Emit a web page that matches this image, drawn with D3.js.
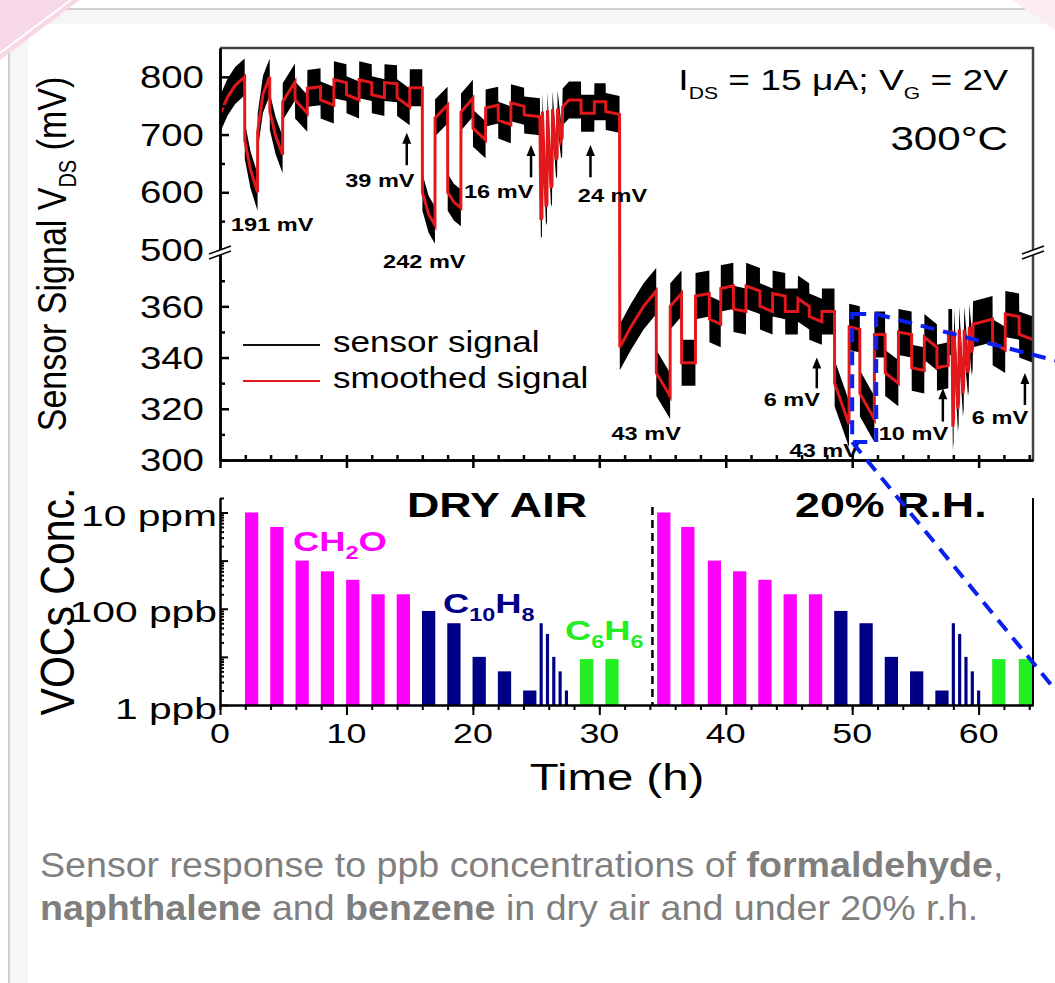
<!DOCTYPE html>
<html>
<head>
<meta charset="utf-8">
<script src="https://cdn.jsdelivr.net/npm/d3@7"></script>
<style>
  body { margin: 0; background: #fff; }
  svg { display: block; font-family: "Liberation Sans", Arial, sans-serif; }
</style>
</head>
<body>
<svg id="chart" width="1055" height="983"></svg>
<script>
// ---- data ----
// smoothed sensor signal [time h, mV]
const signal = [
  [0.0, 735], [0.6, 765], [1.2, 785], [1.95, 800],
  [1.96, 690], [2.4, 640], [2.97, 600],
  [2.98, 705], [3.4, 770], [3.93, 800],
  [3.94, 740], [4.4, 698], [4.95, 665],
  [4.96, 757], [5.93, 791],
  [5.94, 760], [6.9, 737],
  [6.91, 780], [7.95, 783],
  [7.96, 760], [9.0, 751],
  [9.01, 795], [10.0, 790],
  [10.01, 769], [11.0, 760],
  [11.01, 795], [12.0, 790],
  [12.01, 769], [13.0, 764],
  [13.01, 790], [14.0, 788],
  [14.01, 764], [15.0, 748],
  [15.01, 781], [16.0, 781],
  [16.01, 600], [16.5, 562], [17.0, 543],
  [17.01, 729], [18.0, 751],
  [18.01, 600], [18.5, 583], [19.05, 573],
  [19.06, 739], [20.0, 763],
  [20.01, 711], [21.0, 691],
  [21.01, 746], [22.0, 751],
  [22.01, 725], [23.0, 717],
  [23.01, 755], [24.05, 749],
  [24.06, 734], [25.3, 731],
  [25.38, 552], [25.46, 556], [25.5, 740],
  [25.78, 575], [25.86, 580], [25.9, 742],
  [26.18, 607], [26.26, 612], [26.3, 744],
  [26.58, 656], [26.66, 660], [26.7, 745],
  [26.98, 690], [27.06, 694], [27.1, 748],
  [27.6, 760], [28.55, 760],
  [28.56, 737], [29.6, 737],
  [29.61, 757], [30.5, 757],
  [30.51, 740], [31.6, 735],
  [31.62, 344], [32.5, 352], [33.5, 360], [34.5, 366],
  [34.51, 334], [35.6, 325],
  [35.61, 360], [36.5, 365],
  [36.51, 338], [37.6, 338],
  [37.61, 364], [38.7, 365],
  [38.71, 355], [39.6, 353],
  [39.61, 367], [40.6, 368],
  [40.61, 359], [41.6, 358],
  [41.61, 368], [42.7, 366],
  [42.71, 360], [43.7, 358],
  [43.71, 365], [44.7, 364],
  [44.71, 358], [45.7, 358],
  [45.71, 363], [46.6, 360],
  [46.61, 356], [47.6, 354],
  [47.61, 358], [48.6, 358],
  [48.61, 330], [49.75, 314],
  [49.76, 352], [50.6, 351],
  [50.61, 326], [51.75, 316],
  [51.76, 349], [52.6, 349],
  [52.61, 334], [53.65, 330],
  [53.66, 350], [54.7, 349],
  [54.71, 336], [55.7, 335],
  [55.71, 348], [56.7, 344],
  [56.71, 336], [57.6, 337],
  [57.61, 350], [57.9, 350],
  [57.96, 313], [58.02, 316], [58.06, 350],
  [58.36, 320], [58.42, 323], [58.46, 351],
  [58.76, 326], [58.82, 329], [58.86, 351],
  [59.16, 334], [59.22, 336], [59.26, 352],
  [59.46, 342], [59.52, 344], [59.56, 353],
  [61.1, 355],
  [61.11, 346], [62.1, 343],
  [62.11, 357], [63.2, 356],
  [63.21, 349], [64.3, 347]
]
const noiseUpper = 32   // half width of the raw signal band, mV (upper segment)
const noiseLower = 9    // same, lower segment

// gas pulses: centre time (h) and concentration (ppb)
const ch2oDryT = [2.5, 4.5, 6.5, 8.5, 10.5, 12.5, 14.5]
const ch2oHumT = [35.1, 37.0, 39.1, 41.1, 43.1, 45.1, 47.1]
const ch2oPpb = [10000, 5000, 1000, 600, 400, 200, 200]
const c10h8DryT = [16.5, 18.5, 20.5, 22.5, 24.5]
const c10h8HumT = [49.1, 51.1, 53.1, 55.1, 57.1]
const c10h8Ppb = [90, 50, 10, 5, 2]
const pulseDryT = [25.4, 25.9, 26.4, 26.9, 27.4]
const pulseHumT = [58.0, 58.5, 59.0, 59.5, 60.0]
const pulsePpb = [50, 30, 10, 5, 2]
const c6h6DryT = [29.0, 31.0]
const c6h6HumT = [61.6, 63.7]
const c6h6Ppb = [9, 9]

// axis ticks
const sigMajor = [300, 320, 340, 360, 500, 600, 700, 800]
const sigMinor = [310, 330, 350, 370, 550, 650, 750]
const concLabelVals = [1, 100, 10000]
const concLabels = ["1 ppb", "100 ppb", "10 ppm"]
const timeLabels = [0, 10, 20, 30, 40, 50, 60]

// response annotations
const annoText = ["191 mV", "39 mV", "242 mV", "16 mV", "24 mV", "43 mV", "6 mV", "43 mV", "10 mV", "6 mV"]
const annoT = [0.87, 9.9, 12.9, 19.3, 28.3, 30.96, 43.0, 45.05, 52.1, 59.46]
const annoMV = [533, 609, 375, 590, 583, 308, 321, 301, 308, 314]
const arrowT = [14.77, 24.6, 29.3, 47.2, 57.17, 63.66]
const arrowFrom = [647, 626, 626, 328, 315, 321.5]
const arrowTo = [703, 682, 682, 340, 328, 334]

// ---- layout ----
const W = 1055, H = 983
const SX = 1.24   // the figure's lettering is stretched horizontally
const magenta = "#ff00ff", navy = "#000087", green = "#22ee22", red = "#e3181c", blue = "#0a20ee"

const x = d3.scaleLinear().domain([0, 64.3]).range([220, 1033])
// broken axis: 300-382 mV below the break, 500-850 mV above it
const ySig = d3.scaleLinear().domain([300, 382, 500, 850]).range([460, 250, 250, 48])
const yConc = d3.scaleLog().domain([1, 20000]).range([705, 498])

const svg = d3.select("#chart")

// slide backdrop
svg.append("rect").attr("width", W).attr("height", H).attr("fill", "#fff")
svg.append("rect").attr("x", 9).attr("y", 9).attr("width", W).attr("height", H)
  .attr("fill", "#f6f6f6").attr("stroke", "#cfcfcf").attr("stroke-width", 2)
svg.append("rect").attr("x", 28).attr("y", 24).attr("width", W).attr("height", H).attr("fill", "#fff")
svg.append("path").attr("d", "M0,0H80L0,60Z").attr("fill", "#f6d8e7")
svg.append("path").attr("d", "M71,0L0,53").attr("stroke", "#fff").attr("stroke-width", 2)
svg.append("path").attr("d", "M1012,0H1055V30Z").attr("fill", "#fbedf3")

function stext(parent, px, py, size, anchor = "start", weight = "normal", sx = SX) {
  return parent.append("text")
    .attr("transform", `translate(${px},${py}) scale(${sx},1)`)
    .attr("font-size", size)
    .attr("text-anchor", anchor)
    .attr("font-weight", weight)
}

// ---- top panel: sensor signal ----
const sigPanel = svg.append("g")
const [x0, x1] = x.range()
const yTop = ySig.range()[3], yBot = ySig.range()[0]

sigPanel.append("clipPath").attr("id", "clipSig")
  .append("rect").attr("x", x0).attr("y", yTop).attr("width", x1 - x0).attr("height", yBot - yTop)

const noise = v => v >= 450 ? noiseUpper : noiseLower
const band = d3.area()
  .x(d => x(d[0]))
  .y0(d => ySig(d[1] - noise(d[1])))
  .y1(d => ySig(d[1] + noise(d[1])))
const smooth = d3.line().x(d => x(d[0])).y(d => ySig(d[1]))

const sig = sigPanel.append("g").attr("clip-path", "url(#clipSig)")
sig.append("path").datum(signal).attr("d", band).attr("fill", "#000")
sig.append("path").datum(signal).attr("d", smooth)
  .attr("fill", "none").attr("stroke", red).attr("stroke-width", 3)

// frame
sigPanel.append("path").attr("d", `M${x0},${yTop}H${x1}V${yBot}`)
  .attr("fill", "none").attr("stroke", "#444").attr("stroke-width", 2.5)

// left axis (ticks point inwards)
const leftMinor = sigPanel.append("g").attr("transform", `translate(${x0},0)`)
  .call(d3.axisLeft(ySig).tickValues(sigMinor).tickSize(-5).tickSizeOuter(0).tickFormat(""))
const leftMajor = sigPanel.append("g").attr("transform", `translate(${x0},0)`)
  .call(d3.axisLeft(ySig).tickValues(sigMajor).tickSize(-9).tickSizeOuter(0).tickFormat(""))
;[leftMinor, leftMajor].forEach(g => {
  g.selectAll("path,line").attr("stroke", "#000").attr("stroke-width", 2.5)
})
sigMajor.forEach(v => {
  stext(sigPanel, x0 - 16, ySig(v), 31, "end").attr("dy", "0.36em").text(v)
})

// bottom axis of the top panel
const tb1 = sigPanel.append("g").attr("transform", `translate(0,${yBot})`)
  .call(d3.axisBottom(x).tickValues(d3.range(0, 65, 2)).tickSize(-5).tickSizeOuter(0).tickFormat(""))
const tb2 = sigPanel.append("g").attr("transform", `translate(0,${yBot})`)
  .call(d3.axisBottom(x).tickValues(timeLabels).tickSize(8).tickSizeOuter(0).tickFormat(""))
;[tb1, tb2].forEach(g => g.selectAll("path,line").attr("stroke", "#000").attr("stroke-width", 2.5))

// axis break marks
;[x0, x1].forEach(bx => {
  const by = ySig(500) + 3
  sigPanel.append("path").attr("d", `M${bx - 11},${by + 1}L${bx + 11},${by - 7}L${bx + 11},${by - 2}L${bx - 11},${by + 6}Z`)
    .attr("fill", "#fff")
  sigPanel.append("path").attr("d", `M${bx - 11},${by + 1}L${bx + 11},${by - 7}M${bx - 11},${by + 6}L${bx + 11},${by - 2}`)
    .attr("stroke", "#000").attr("stroke-width", 1.5)
})

// y title
const yt = sigPanel.append("text")
  .attr("transform", `translate(66,${(yTop + yBot) / 2}) rotate(-90) scale(1,1.22)`)
  .attr("text-anchor", "middle").attr("font-size", 34)
yt.append("tspan").text("Sensor Signal V")
yt.append("tspan").attr("font-size", 20).attr("dy", 8).text("DS")
yt.append("tspan").attr("dy", -8).text(" (mV)")

// operating conditions
const cond = stext(sigPanel, 1008, 90, 30, "end")
cond.append("tspan").text("I")
cond.append("tspan").attr("font-size", 17).attr("dy", 9).text("DS")
cond.append("tspan").attr("dy", -9).text(" = 15 \u03bcA; V")
cond.append("tspan").attr("font-size", 17).attr("dy", 9).text("G")
cond.append("tspan").attr("dy", -9).text(" = 2V")
stext(sigPanel, 1008, 150, 34, "end").text("300\u00b0C")

// legend
sigPanel.append("line").attr("x1", 243).attr("x2", 320).attr("y1", 345).attr("y2", 345)
  .attr("stroke", "#111").attr("stroke-width", 2)
sigPanel.append("line").attr("x1", 243).attr("x2", 320).attr("y1", 381).attr("y2", 381)
  .attr("stroke", red).attr("stroke-width", 2)
stext(sigPanel, 333, 352, 30, "start", "normal", 1.17).text("sensor signal")
stext(sigPanel, 333, 388, 30, "start", "normal", 1.17).text("smoothed signal")

// response annotations
annoText.forEach((t, i) => {
  stext(sigPanel, x(annoT[i]), ySig(annoMV[i]), 19, "start", "bold").text(t)
})
arrowT.forEach((t, i) => {
  const ax = x(t), ya = ySig(arrowFrom[i]), yb = ySig(arrowTo[i])
  sigPanel.append("line").attr("x1", ax).attr("x2", ax).attr("y1", ya).attr("y2", yb + 8)
    .attr("stroke", "#000").attr("stroke-width", 2.5)
  sigPanel.append("path").attr("d", `M${ax - 4.5},${yb + 11}L${ax},${yb}L${ax + 4.5},${yb + 11}Z`).attr("fill", "#000")
})

// ---- bottom panel: VOC concentrations ----
const concPanel = svg.append("g")
const cBot = yConc.range()[0], cTop = yConc.range()[1]

function bars(times, ppb, color, widthH) {
  concPanel.selectAll(null).data(times).enter().append("rect")
    .attr("x", d => x(d - widthH / 2))
    .attr("width", d => x(d + widthH / 2) - x(d - widthH / 2))
    .attr("y", (d, i) => yConc(ppb[i]))
    .attr("height", (d, i) => cBot - yConc(ppb[i]))
    .attr("fill", color)
}
bars(ch2oDryT, ch2oPpb, magenta, 1.05)
bars(ch2oHumT, ch2oPpb, magenta, 1.05)
bars(c10h8DryT, c10h8Ppb, navy, 1.05)
bars(c10h8HumT, c10h8Ppb, navy, 1.05)
bars(pulseDryT, pulsePpb, navy, 0.25)
bars(pulseHumT, pulsePpb, navy, 0.25)
bars(c6h6DryT, c6h6Ppb, green, 1.05)
bars(c6h6HumT, c6h6Ppb, green, 1.05)

// dry / humid divider
concPanel.append("line").attr("x1", x(34.2)).attr("x2", x(34.2)).attr("y1", cTop + 9).attr("y2", cBot)
  .attr("stroke", "#000").attr("stroke-width", 2.5).attr("stroke-dasharray", "8,5")

// axes
const minorConc = []
for (let e = 0; e <= 4; e++) for (let m = 2; m <= 9; m++) {
  const v = m * Math.pow(10, e)
  if (v <= 20000) minorConc.push(v)
}
const la1 = concPanel.append("g").attr("transform", `translate(${x0},0)`)
  .call(d3.axisLeft(yConc).tickValues(minorConc).tickSize(-4).tickSizeOuter(0).tickFormat(""))
const la2 = concPanel.append("g").attr("transform", `translate(${x0},0)`)
  .call(d3.axisLeft(yConc).tickValues([1, 10, 100, 1000, 10000]).tickSize(-8).tickSizeOuter(0).tickFormat(""))
;[la1, la2].forEach(g => g.selectAll("path,line").attr("stroke", "#000").attr("stroke-width", 2))
concPanel.append("line").attr("x1", x1).attr("x2", x1).attr("y1", cTop).attr("y2", cBot)
  .attr("stroke", "#000").attr("stroke-width", 2)

const ba1 = concPanel.append("g").attr("transform", `translate(0,${cBot})`)
  .call(d3.axisBottom(x).tickValues(d3.range(0, 65, 2)).tickSize(5).tickSizeOuter(0).tickFormat(""))
const ba2 = concPanel.append("g").attr("transform", `translate(0,${cBot})`)
  .call(d3.axisBottom(x).tickValues(timeLabels).tickSize(10).tickSizeOuter(0).tickFormat(""))
;[ba1, ba2].forEach(g => g.selectAll("path,line").attr("stroke", "#000").attr("stroke-width", 2))

concLabelVals.forEach((v, i) => {
  stext(concPanel, x0 - 3, yConc(v), 30, "end", "normal", 1.36).attr("dy", "0.45em").text(concLabels[i])
})
timeLabels.forEach(v => {
  stext(concPanel, x(v), cBot + 38, 28, "middle", "normal", 1.28).text(v)
})
stext(concPanel, 617, 790, 37, "middle", "normal", 1.28).text("Time (h)")

concPanel.append("text")
  .attr("transform", `translate(74,${(cTop + cBot) / 2}) rotate(-90) scale(1,1.18)`)
  .attr("text-anchor", "middle").attr("font-size", 41)
  .text("VOCs Conc.")

// condition and gas labels
stext(concPanel, 407, 517, 35, "start", "bold", 1.28).text("DRY AIR")
stext(concPanel, 795, 517, 35, "start", "bold", 1.28).text("20% R.H.")

function formula(px, py, parts, color) {
  const t = stext(concPanel, px, py, 28, "start", "bold", 1.3).attr("fill", color)
  let low = false
  parts.forEach(p => {
    const sub = /^[0-9]+$/.test(p)
    const ts = t.append("tspan").text(p)
    if (sub) { ts.attr("font-size", 18).attr("dy", low ? 0 : 8); low = true }
    else { ts.attr("dy", low ? -8 : 0); low = false }
  })
}
formula(293, 551, ["CH", "2", "O"], magenta)
formula(443, 613, ["C", "10", "H", "8"], navy)
formula(565, 640, ["C", "6", "H", "6"], green)

// zoom-in marker pointing to an inset outside the figure
const bx0 = x(50.0), bx1 = x(51.9), by0 = ySig(357), by1 = ySig(307)
const zoomMark = svg.append("g").attr("fill", "none").attr("stroke", blue)
  .attr("stroke-width", 4).attr("stroke-dasharray", "14,9")
zoomMark.append("rect").attr("x", bx0).attr("y", by0).attr("width", bx1 - bx0).attr("height", by1 - by0)
zoomMark.append("line").attr("x1", bx1).attr("y1", by0).attr("x2", W).attr("y2", by0 + (W - bx1) * 0.26)
zoomMark.append("line").attr("x1", bx0).attr("y1", by1).attr("x2", W).attr("y2", by1 + (W - bx0) * 1.22)

// ---- caption ----
const cap = svg.append("g").attr("fill", "#7f7f7f").attr("font-size", 36)
  .attr("transform", "translate(40,0) scale(1.045,1)")
const l1 = cap.append("text").attr("x", 0).attr("y", 877)
l1.append("tspan").text("Sensor response to ppb concentrations of ")
l1.append("tspan").attr("font-weight", "bold").text("formaldehyde")
l1.append("tspan").text(",")
const l2 = cap.append("text").attr("x", 0).attr("y", 920)
l2.append("tspan").attr("font-weight", "bold").text("naphthalene")
l2.append("tspan").text(" and ")
l2.append("tspan").attr("font-weight", "bold").text("benzene")
l2.append("tspan").text(" in dry air and under 20% r.h.")
</script>
</body>
</html>
